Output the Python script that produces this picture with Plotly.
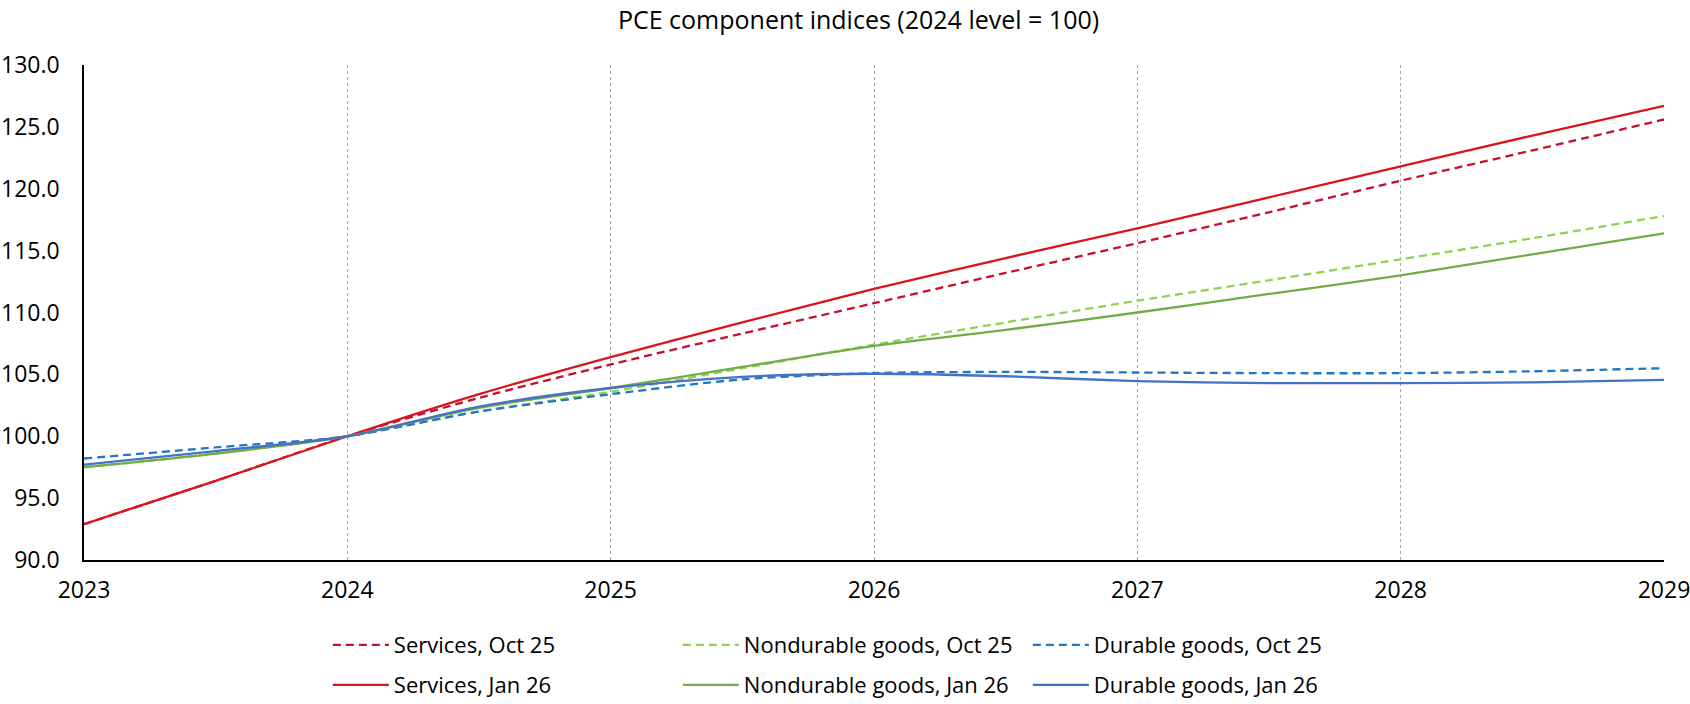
import plotly.graph_objects as go

# Half-year observation points
years = [2023, 2023.5, 2024, 2024.5, 2025, 2025.5, 2026, 2026.5, 2027, 2027.5, 2028, 2028.5, 2029]

services_oct25 = [92.9, 96.4, 100.0, 103.1, 105.8, 108.3, 110.75, 113.2, 115.6, 118.1, 120.65, 123.1, 125.6]
services_jan26 = [92.9, 96.4, 100.0, 103.4, 106.4, 109.2, 111.9, 114.4, 116.8, 119.3, 121.8, 124.3, 126.7]
nondurable_oct25 = [97.5, 98.6, 100.0, 102.0, 103.6, 105.5, 107.4, 109.2, 110.95, 112.6, 114.3, 116.0, 117.8]
nondurable_jan26 = [97.5, 98.6, 100.0, 102.3, 103.9, 105.6, 107.3, 108.6, 110.0, 111.5, 113.0, 114.7, 116.4]
durable_oct25 = [98.2, 99.1, 100.0, 102.0, 103.4, 104.6, 105.1, 105.2, 105.15, 105.1, 105.1, 105.25, 105.5]
durable_jan26 = [97.7, 98.8, 100.0, 102.4, 103.9, 104.8, 105.05, 104.85, 104.45, 104.3, 104.3, 104.35, 104.55]

x_ticks = [2023, 2024, 2025, 2026, 2027, 2028, 2029]

series = [
    ("Services, Oct 25", services_oct25, "#c8102e", "8px,5px", "legend"),
    ("Nondurable goods, Oct 25", nondurable_oct25, "#92d050", "8px,5px", "legend"),
    ("Durable goods, Oct 25", durable_oct25, "#1f78c1", "8px,5px", "legend"),
    ("Services, Jan 26", services_jan26, "#d9141c", "solid", "legend2"),
    ("Nondurable goods, Jan 26", nondurable_jan26, "#70ad47", "solid", "legend2"),
    ("Durable goods, Jan 26", durable_jan26, "#4472c4", "solid", "legend2"),
]

fig = go.Figure()
for name, vals, color, dash, leg in series:
    fig.add_trace(go.Scatter(
        x=years, y=vals, name=name, mode="lines",
        line=dict(color=color, width=2.3, dash=dash, shape="spline", smoothing=0.8),
        legend=leg,
    ))

font_family = "Open Sans, Noto Sans, sans-serif"
legend_common = dict(
    orientation="h", xanchor="left", yanchor="middle",
    xref="container", yref="container",
    entrywidth=279, entrywidthmode="pixels",
    font=dict(family=font_family, size=22, color="#000000"),
    bgcolor="rgba(0,0,0,0)", itemwidth=56, tracegroupgap=0,
)

fig.update_layout(
    width=1690, height=704,
    margin=dict(l=84, r=26, t=65, b=144, autoexpand=False),
    paper_bgcolor="white", plot_bgcolor="white",
    title=dict(text="PCE component indices (2024 level = 100)", x=0.508, xanchor="center",
               y=1 - 20 / 704, yanchor="middle",
               font=dict(family=font_family, size=25, color="#000000")),
    showlegend=True,
    legend=dict(x=0.194, y=1 - 645 / 704, **legend_common),
    legend2=dict(x=0.194, y=1 - 685 / 704, **legend_common),
    xaxis=dict(
        range=[2023, 2029], tickmode="array", tickvals=x_ticks,
        ticktext=[str(t) for t in x_ticks],
        showgrid=True, gridcolor="#a6a6a6", gridwidth=1, griddash="dot",
        showline=True, linecolor="#000000", linewidth=1.5,
        ticks="", ticklabelstandoff=9, zeroline=False, automargin=False,
        ticklabeloverflow="allow",
        tickfont=dict(family=font_family, size=23, color="#000000"),
    ),
    yaxis=dict(
        range=[90, 130], dtick=5, tick0=90, tickformat=".1f",
        showgrid=False, showline=True, linecolor="#000000", linewidth=1.5,
        ticks="", ticklabelstandoff=18, zeroline=False, automargin=False,
        ticklabeloverflow="allow",
        tickfont=dict(family=font_family, size=23, color="#000000"),
    ),
)

fig.write_html("out.html")
